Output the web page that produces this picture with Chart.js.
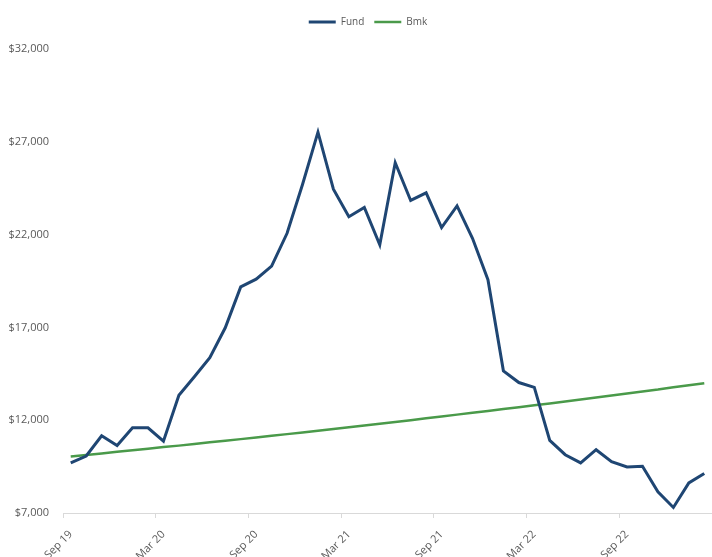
<!DOCTYPE html>
<html>
<head>
<meta charset="utf-8">
<script src="https://cdn.jsdelivr.net/npm/chart.js@4"></script>
<style>
    html, body { margin: 0; padding: 0; background: #fff; }
    #wrap { width: 712px; height: 557px; }
</style>
</head>
<body>
<div id="wrap"><canvas id="growth-chart"></canvas></div>
<script>
// Monthly categories, Sep 19 .. Feb 23
const months = [
    'Sep 19', 'Oct 19', 'Nov 19', 'Dec 19', 'Jan 20', 'Feb 20',
    'Mar 20', 'Apr 20', 'May 20', 'Jun 20', 'Jul 20', 'Aug 20',
    'Sep 20', 'Oct 20', 'Nov 20', 'Dec 20', 'Jan 21', 'Feb 21',
    'Mar 21', 'Apr 21', 'May 21', 'Jun 21', 'Jul 21', 'Aug 21',
    'Sep 21', 'Oct 21', 'Nov 21', 'Dec 21', 'Jan 22', 'Feb 22',
    'Mar 22', 'Apr 22', 'May 22', 'Jun 22', 'Jul 22', 'Aug 22',
    'Sep 22', 'Oct 22', 'Nov 22', 'Dec 22', 'Jan 23', 'Feb 23'
];

const fundValues = [
    9700, 10070, 11160, 10640, 11590, 11590,
    10870, 13340, 14340, 15370, 16980, 19180,
    19600, 20300, 22070, 24700, 27520, 24450,
    22960, 23460, 21450, 25870, 23840, 24250,
    22380, 23550, 21800, 19570, 14660, 14030,
    13770, 10910, 10140, 9700, 10410, 9770,
    9480, 9520, 8140, 7300, 8620, 9130
];

const bmkValues = [
    10050, 10130, 10210, 10300, 10380, 10460,
    10550, 10630, 10720, 10810, 10890, 10980,
    11070, 11160, 11250, 11340, 11430, 11530,
    11620, 11710, 11810, 11900, 12000, 12100,
    12200, 12300, 12400, 12500, 12600, 12700,
    12800, 12900, 13010, 13110, 13220, 13330,
    13440, 13550, 13650, 13770, 13880, 13990
];

const yTicks = [7000, 12000, 17000, 22000, 27000, 32000];

const labelColor = '#595959';
const axisColor = '#d9d9d9';
const fontFamily = '"Open Sans", "Noto Sans", sans-serif';

// give the legend a bit more room below it, and nudge it right like the original
const legendTweak = {
    id: 'legendTweak',
    beforeInit(chart) {
        const fit = chart.legend.fit;
        chart.legend.fit = function () {
            fit.bind(chart.legend)();
            this.height += 12;
        };
    },
    afterLayout(chart) {
        chart.legend.left += 12;
        chart.legend.right += 12;
    }
};

new Chart(document.getElementById('growth-chart').getContext('2d'), {
    type: 'line',
    data: {
        labels: months,
        datasets: [{
            label: 'Fund',
            data: fundValues,
            borderColor: '#1f4673',
            backgroundColor: '#1f4673',
            borderWidth: 3,
            pointRadius: 0,
            tension: 0
        }, {
            label: 'Bmk',
            data: bmkValues,
            borderColor: '#4a9a4a',
            backgroundColor: '#4a9a4a',
            borderWidth: 2.5,
            pointRadius: 0,
            tension: 0
        }]
    },
    plugins: [legendTweak],
    options: {
        responsive: true,
        maintainAspectRatio: false,
        animation: false,
        layout: {
            padding: { top: 7, right: 0, bottom: 0, left: 0 }
        },
        plugins: {
            legend: {
                display: true,
                position: 'top',
                labels: {
                    usePointStyle: true,
                    pointStyle: 'line',
                    pointStyleWidth: 27,
                    color: labelColor,
                    padding: 10,
                    font: { family: fontFamily, size: 10 }
                }
            },
            tooltip: { enabled: false }
        },
        scales: {
            x: {
                type: 'category',
                offset: true,
                afterFit: (scale) => {
                    scale.height = 44;
                    scale.paddingRight = 0;
                },
                grid: {
                    display: true,
                    offset: true,
                    drawOnChartArea: false,
                    drawTicks: true,
                    tickLength: 5,
                    color: (ctx) => (ctx.index % 6 === 0 ? axisColor : 'rgba(0,0,0,0)')
                },
                border: { display: true, color: axisColor, width: 1 },
                ticks: {
                    autoSkip: false,
                    maxRotation: 45,
                    minRotation: 45,
                    padding: 10,
                    color: labelColor,
                    font: { family: fontFamily, size: 11 },
                    callback: function (value, index) {
                        return index % 6 === 0 ? months[index] : '';
                    }
                }
            },
            y: {
                min: yTicks[0],
                max: yTicks[yTicks.length - 1],
                afterFit: (scale) => { scale.width = 63; },
                afterBuildTicks: (scale) => {
                    scale.ticks = yTicks.map(v => ({ value: v }));
                },
                grid: { display: false },
                border: { display: false },
                ticks: {
                    padding: 6,
                    color: labelColor,
                    font: { family: fontFamily, size: 11 },
                    callback: (value) => '$' + value.toLocaleString('en-US')
                }
            }
        }
    }
});
</script>
</body>
</html>
